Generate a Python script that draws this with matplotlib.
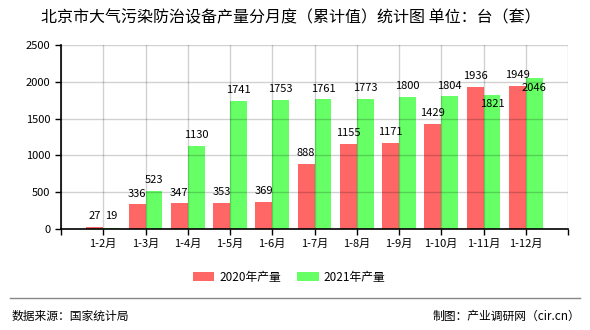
import numpy as np
import matplotlib
matplotlib.use("Agg")
import matplotlib.pyplot as plt
from matplotlib.lines import Line2D

plt.rcParams['font.family'] = ['Noto Sans CJK SC', 'DejaVu Sans']

# monthly cumulative output, units: 台（套）
months = ["1-2月", "1-3月", "1-4月", "1-5月", "1-6月", "1-7月",
          "1-8月", "1-9月", "1-10月", "1-11月", "1-12月"]
output_2020 = [27, 336, 347, 353, 369, 888, 1155, 1171, 1429, 1936, 1949]
output_2021 = [19, 523, 1130, 1741, 1753, 1761, 1773, 1800, 1804, 1821, 2046]

red = "#ff6666"
green = "#66ff66"

fig = plt.figure(figsize=(5.9, 3.3), dpi=100)
ax = fig.add_axes([61/590, 101/330, 507/590, 184/330])

x = np.arange(len(months))
w = 0.4
b1 = ax.bar(x - w/2, output_2020, w, color=red, label="2020年产量", zorder=1)
b2 = ax.bar(x + w/2, output_2021, w, color=green, label="2021年产量", zorder=1)

# value labels; the last two green ones sit inside the bar so they don't collide
for xi, v in zip(x, output_2020):
    ax.annotate(str(v), (xi - w/2, v), xytext=(0, 4), textcoords="offset points",
                ha="center", va="bottom", fontsize=8, zorder=3)
for i, (xi, v) in enumerate(zip(x, output_2021)):
    if i == 0:
        # tiny bar: keep the label level with its neighbour
        ax.annotate(str(v), (xi + w/2, output_2020[0]), xytext=(0, 4), textcoords="offset points",
                    ha="center", va="bottom", fontsize=8, zorder=3)
    elif i >= 9:
        ax.annotate(str(v), (xi + w/2, v), xytext=(0, -3), textcoords="offset points",
                    ha="center", va="top", fontsize=8, zorder=3)
    else:
        ax.annotate(str(v), (xi + w/2, v), xytext=(0, 4), textcoords="offset points",
                    ha="center", va="bottom", fontsize=8, zorder=3)

ax.set_xlim(-1, len(months))
ax.set_ylim(0, 2500)
ax.set_yticks(np.arange(0, 2501, 500))
ax.set_xticks(np.arange(-1, len(months) + 1))
ax.set_xticklabels([""] + months + [""])
ax.tick_params(axis="both", labelsize=8, length=4, width=1, color="black")
ax.tick_params(axis="x", pad=3)

# grid drawn on top of the bars, faint
ax.set_axisbelow(False)
ax.grid(True, color="black", alpha=0.18, linewidth=1)
for s in ["top", "right"]:
    ax.spines[s].set_visible(False)
for s in ["left", "bottom"]:
    ax.spines[s].set_linewidth(1.2)
    ax.spines[s].set_zorder(4)

fig.text(0.493, 1 - 17.5/330, "北京市大气污染防治设备产量分月度（累计值）统计图 单位：台（套）",
         ha="center", va="center", fontsize=11.5, fontweight="medium")

fig.legend(handles=[b1, b2], loc="center", bbox_to_anchor=(0.49, 1 - 277/330),
           ncol=2, frameon=False, fontsize=8.5, handlelength=1.8, handleheight=0.8,
           handletextpad=0.4, columnspacing=1.4)

fig.add_artist(Line2D([10/590, 580/590], [1 - 298/330, 1 - 298/330],
                      color="#888888", linewidth=1))
fig.text(12/590, 1 - 316/330, "数据来源：国家统计局", ha="left", va="center", fontsize=8.5)
fig.text(580/590, 1 - 316/330, "制图：产业调研网（cir.cn）", ha="right", va="center", fontsize=8.5)

fig.savefig("out.png", dpi=100)
